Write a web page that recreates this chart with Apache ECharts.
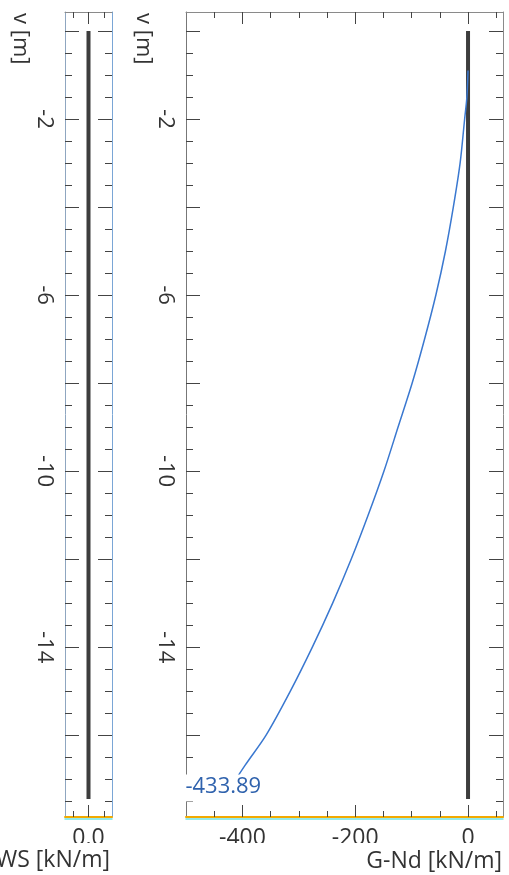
<!DOCTYPE html>
<html>
<head>
<meta charset="utf-8">
<script src="https://cdn.jsdelivr.net/npm/echarts@6/dist/echarts.min.js"></script>
<style>
  html, body { margin: 0; padding: 0; background: #fff; }
  #chart { width: 509px; height: 875px; }
</style>
</head>
<body>
<div id="chart"></div>
<script>
// Depth axis v [m], shared by both panels
const depthMin = -17.86;
const depthMax = 0.43;
const depthLabels = [-14, -10, -6, -2];
const depthMajorTicks = [0, -2, -4, -6, -8, -10, -12, -14, -16];
const depthMinorTicks = [-0.5, -1, -1.5, -2.5, -3, -3.5, -4.5, -5, -5.5, -6.5, -7, -7.5,
  -8.5, -9, -9.5, -10.5, -11, -11.5, -12.5, -13, -13.5, -14.5, -15, -15.5, -16.5, -17, -17.5];

// WS panel
const wsMin = -1.5;
const wsMax = 1.5;
const wsLabels = [0];
const wsMajorTicks = [0];
const wsMinorTicks = [-1, 1];
const wsDepth = [0, -17.45];
const wsValue = [0, 0];

// G-Nd panel
const gndMin = -500;
const gndMax = 62;
const gndLabels = [-400, -200, 0];
const gndMajorTicks = [-400, -200, 0];
const gndMinorTicks = [-450, -350, -300, -250, -150, -100, -50, 50];
const gndBaseDepth = [0, -17.45];
const gndBaseValue = [0, 0];
const gndDepth = [-0.9, -1.5, -2, -3, -4, -5, -6, -7, -8, -9, -10,
  -11, -12, -13, -14, -15, -16, -16.7, -17.45];
const gndValue = [0, -2, -6, -14, -26, -40, -57, -77, -99, -124, -149,
  -177, -207, -240, -276, -315, -358, -396, -433.89];

const FONT = 'Open Sans';
const TICK = '#444';

function pairs(xs, ys) { return xs.map((x, i) => [x, ys[i]]); }

function axisBase(gridIndex, min, max) {
  return {
    type: 'value', gridIndex, min, max,
    splitLine: { show: false },
    axisLabel: { show: false },
    axisTick: { show: false },
    axisLine: { show: false, onZero: false }
  };
}

function xAxesFor(gridIndex, min, max, labels, major, minor, fmt) {
  const base = axisBase(gridIndex, min, max);
  return [
    Object.assign({}, base, {
      position: 'bottom',
      axisLine: { show: true, onZero: false, lineStyle: { color: '#f2a900', width: 2 } },
      axisTick: { show: true, inside: true, length: 12, customValues: major, lineStyle: { color: TICK } },
      axisLabel: { show: true, customValues: labels, formatter: fmt, margin: 10,
        fontSize: 23, fontFamily: FONT, color: '#333' }
    }),
    Object.assign({}, base, {
      position: 'bottom',
      axisTick: { show: true, inside: true, length: 6, customValues: minor, lineStyle: { color: TICK } }
    }),
    Object.assign({}, base, {
      position: 'bottom', offset: 2,
      axisLine: { show: true, onZero: false, lineStyle: { color: '#6fe3e3', width: 1.5 } }
    }),
    Object.assign({}, base, {
      position: 'top',
      axisLine: { show: true, onZero: false, lineStyle: { color: '#8a8a8a' } },
      axisTick: { show: true, inside: true, length: 12, customValues: major, lineStyle: { color: TICK } }
    }),
    Object.assign({}, base, {
      position: 'top',
      axisTick: { show: true, inside: true, length: 6, customValues: minor, lineStyle: { color: TICK } }
    })
  ];
}

function yAxesFor(gridIndex, leftColor, rightColor) {
  const base = axisBase(gridIndex, depthMin, depthMax);
  return [
    Object.assign({}, base, {
      position: 'left',
      axisLine: { show: true, onZero: false, lineStyle: { color: leftColor } },
      axisTick: { show: true, inside: true, length: 14, customValues: depthMajorTicks, lineStyle: { color: TICK } },
      axisLabel: { show: true, customValues: depthLabels, rotate: -90, margin: 10,
        fontSize: 22, fontFamily: FONT, color: '#333' }
    }),
    Object.assign({}, base, {
      position: 'left',
      axisTick: { show: true, inside: true, length: 7, customValues: depthMinorTicks, lineStyle: { color: TICK } }
    }),
    Object.assign({}, base, {
      position: 'right',
      axisLine: { show: true, onZero: false, lineStyle: { color: rightColor } },
      axisTick: { show: true, inside: true, length: 14, customValues: depthMajorTicks, lineStyle: { color: TICK } }
    }),
    Object.assign({}, base, {
      position: 'right',
      axisTick: { show: true, inside: true, length: 7, customValues: depthMinorTicks, lineStyle: { color: TICK } }
    })
  ];
}

const xAxes = [].concat(
  xAxesFor(0, wsMin, wsMax, wsLabels, wsMajorTicks, wsMinorTicks, v => v.toFixed(1)),
  xAxesFor(1, gndMin, gndMax, gndLabels, gndMajorTicks, gndMinorTicks, v => String(v))
);
const yAxes = [].concat(
  yAxesFor(0, '#8fa6c0', '#7aa6d6'),
  yAxesFor(1, '#777', '#8a8a8a')
);

// the bottom end of the G-Nd curve carries its value as a label
const gndData = pairs(gndValue, gndDepth);
const last = gndData.length - 1;
gndData[last] = {
  value: gndData[last],
  symbol: 'circle',
  symbolSize: 1,
  itemStyle: { color: 'rgba(0,0,0,0)' },
  label: {
    show: true, position: 'top', distance: -3,
    formatter: p => p.value[0].toFixed(2),
    color: '#2f62ad', fontSize: 22, fontFamily: FONT,
    backgroundColor: '#fff', padding: [1, 2, 4, 2]
  }
};

const chart = echarts.init(document.getElementById('chart'), null, { renderer: 'canvas' });
chart.setOption({
  animation: false,
  backgroundColor: '#fff',
  grid: [
    { left: 65, top: 12, width: 47, height: 805 },
    { left: 186, top: 12, width: 317, height: 805 }
  ],
  xAxis: xAxes,
  yAxis: yAxes,
  series: [
    {
      name: 'WS', type: 'line', xAxisIndex: 0, yAxisIndex: 0,
      data: pairs(wsValue, wsDepth), symbol: 'none',
      lineStyle: { color: '#3d3d3d', width: 4 }
    },
    {
      name: 'G-Nd base', type: 'line', xAxisIndex: 5, yAxisIndex: 4,
      data: pairs(gndBaseValue, gndBaseDepth), symbol: 'none',
      lineStyle: { color: '#3d3d3d', width: 4 }
    },
    {
      name: 'G-Nd', type: 'line', xAxisIndex: 5, yAxisIndex: 4,
      data: gndData, symbol: 'none', showSymbol: true, smooth: 0.3,
      lineStyle: { color: '#3a78d0', width: 1.5 }
    }
  ],
  graphic: [
    { type: 'rect', z: 50, shape: { x: 0, y: 843, width: 509, height: 6 }, style: { fill: '#fff' } },
    { type: 'text', z: 60, x: 20, y: 13, rotation: -Math.PI / 2,
      style: { text: 'v [m]', fontSize: 22, fontFamily: FONT, fill: '#333', align: 'left', verticalAlign: 'middle' } },
    { type: 'text', z: 60, x: 143, y: 13, rotation: -Math.PI / 2,
      style: { text: 'v [m]', fontSize: 22, fontFamily: FONT, fill: '#333', align: 'left', verticalAlign: 'middle' } },
    { type: 'text', z: 60, x: 110, y: 860,
      style: { text: 'WS [kN/m]', fontSize: 23, fontFamily: FONT, fill: '#333', align: 'right', verticalAlign: 'middle' } },
    { type: 'text', z: 60, x: 502, y: 861,
      style: { text: 'G-Nd [kN/m]', fontSize: 23, fontFamily: FONT, fill: '#333', align: 'right', verticalAlign: 'middle' } }
  ]
});
</script>
</body>
</html>
